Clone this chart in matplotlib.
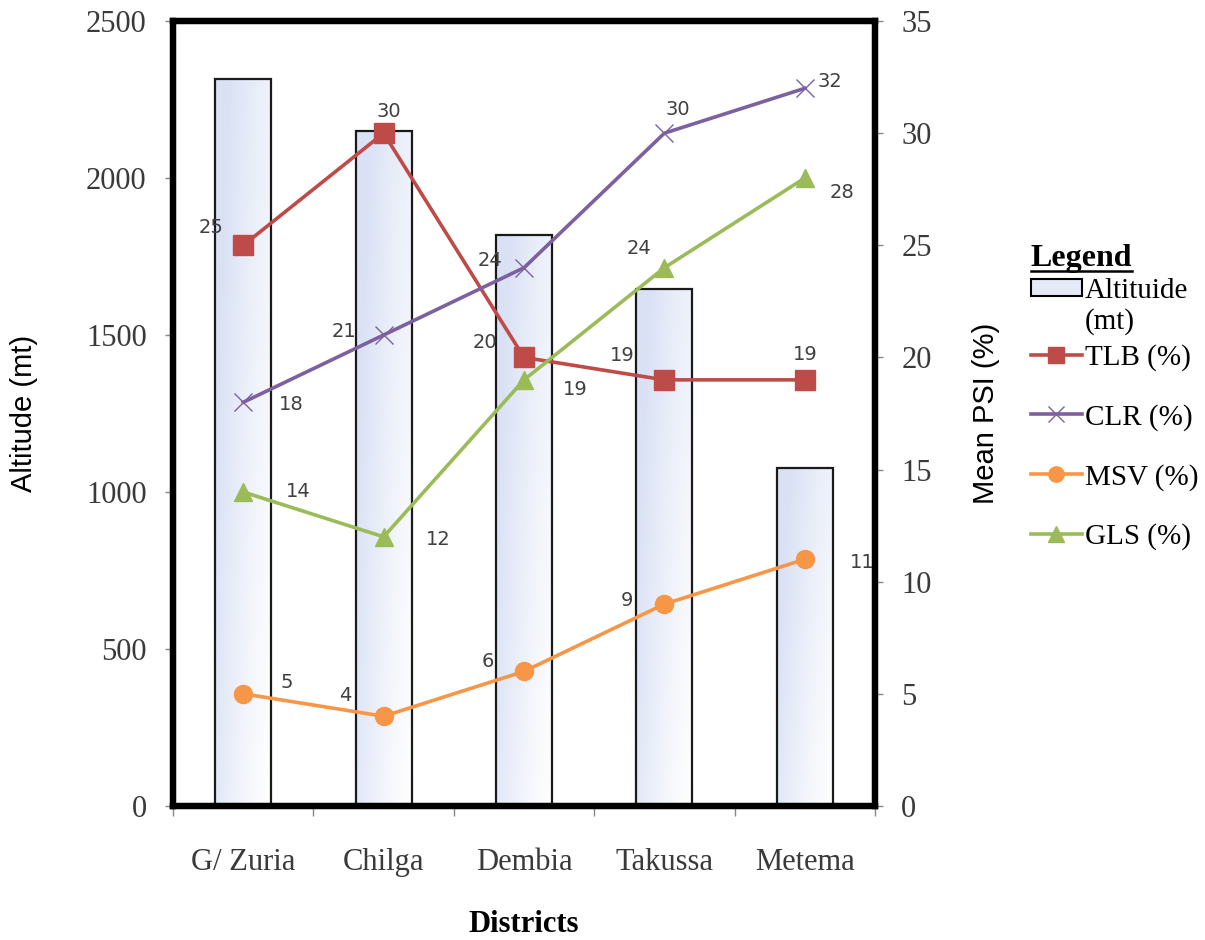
import numpy as np
import matplotlib
matplotlib.use("Agg")
import matplotlib.pyplot as plt
from matplotlib.patches import Patch
from matplotlib.lines import Line2D

# districts and measured values
districts = ["G/ Zuria", "Chilga", "Dembia", "Takussa", "Metema"]
altitude = [2315, 2150, 1820, 1645, 1078]
tlb = [25, 30, 20, 19, 19]
clr = [18, 21, 24, 30, 32]
msv = [5, 4, 6, 9, 11]
gls = [14, 12, 19, 24, 28]

# label offsets in pixels for the value labels (dx, dy)
tlb_off = [(-32, 18), (5, 22), (-39, 15), (-42, 24), (0, 25)]
clr_off = [(48, -2), (-40, 4), (-34, 7), (13, 24), (25, 7)]
msv_off = [(44, 11), (-38, 21), (-36, 10), (-37, 4), (57, -3)]
gls_off = [(55, 0), (55, -3), (51, -10), (-25, 19), (37, -14)]

serif = "Liberation Serif"
sans = "Liberation Sans"
tick_col = "#3a3a3a"

fig = plt.figure(figsize=(12.05, 9.4), dpi=100)
ax = fig.add_axes([0.1436, 0.1426, 0.5825, 0.835])
ax2 = ax.twinx()

x = np.arange(len(districts))
bars = ax.bar(x, altitude, width=0.4, facecolor="none", edgecolor="#1a1a1a",
              linewidth=1.6, zorder=2)

# soft lavender gradient inside each bar
tint = np.array([0.855, 0.885, 0.96])
u = np.linspace(0, 1, 60)
v = np.linspace(1, 0, 100)
U, V = np.meshgrid(u, v)
t = np.clip(0.8 * (1 - U) ** 1.3 + 0.45 * V, 0, 1)[..., None]
grad = (1 - t) * np.ones(3) + t * tint
for b in bars:
    im = ax.imshow(grad, extent=[b.get_x(), b.get_x() + b.get_width(), 0, b.get_height()],
                   aspect="auto", zorder=1.5, interpolation="bilinear")
    im.set_clip_path(b)

ax.set_xlim(-0.5, 4.5)
ax.set_ylim(0, 2500)
ax.set_aspect("auto")
ax.set_yticks(range(0, 2501, 500))
ax.set_xticks(x)
ax.set_xticklabels(districts)
ax.set_xticks(np.arange(-0.5, 5, 1), minor=True)
ax.tick_params(axis="x", which="major", length=0, pad=30)
ax.tick_params(axis="x", which="minor", length=7, width=1, color="#888888", direction="out")
ax.tick_params(axis="y", length=6, width=1, color="#888888", pad=13)
for lab in ax.get_xticklabels() + ax.get_yticklabels():
    lab.set_fontfamily(serif)
    lab.set_fontsize(22)
    lab.set_color(tick_col)

ax2.set_ylim(0, 35)
ax2.set_yticks(range(0, 36, 5))
ax2.tick_params(axis="y", length=6, width=1, color="#888888", pad=13)
for lab in ax2.get_yticklabels():
    lab.set_fontfamily(serif)
    lab.set_fontsize(22)
    lab.set_color(tick_col)

for a in (ax, ax2):
    for s in a.spines.values():
        s.set_linewidth(4.5)
        s.set_color("black")
        s.set_zorder(5)

ax.set_ylabel("Altitude (mt)", fontfamily=sans, fontsize=21)
ax2.set_ylabel("Mean PSI (%)", fontfamily=sans, fontsize=21)
ax.set_xlabel("Districts", fontfamily=serif, fontsize=22, fontweight="bold")
ax.yaxis.set_label_coords(-0.192, 0.5)
ax2.yaxis.set_label_coords(1.138, 0.5)
ax.xaxis.set_label_coords(0.5, -0.133)

series = [
    ("TLB (%)", tlb, tlb_off, "#be4b48", "s", 14),
    ("CLR (%)", clr, clr_off, "#7d60a0", "x", 13),
    ("MSV (%)", msv, msv_off, "#f79646", "o", 13),
    ("GLS (%)", gls, gls_off, "#9bbb59", "^", 13),
]
line_handles = []
for name, vals, offs, col, mk, ms in series:
    ax2.plot(x, vals, color=col, linewidth=2.6, marker=mk, markersize=ms,
             markeredgewidth=1, markeredgecolor=col, zorder=3)
    for xi, val, (dx, dy) in zip(x, vals, offs):
        ax2.annotate(str(val), (xi, val), xytext=(dx, dy), textcoords="offset pixels",
                     ha="center", va="center", fontsize=14, color="#404040",
                     fontfamily="DejaVu Sans", zorder=2)
    line_handles.append(Line2D([], [], color=col, linewidth=2.6, marker=mk,
                               markersize=ms * 0.85, markeredgewidth=1,
                               markeredgecolor=col, label=name))

leg_prop = {"family": serif, "size": 21}

# legend: bar entry with title, then the disease lines below it
bar_handles = [Patch(facecolor="#e6eaf6", edgecolor="black", linewidth=1.5, label="Altituide"),
               Line2D([], [], color="none", label="(mt)")]
leg1 = fig.legend(handles=bar_handles, loc="upper left", bbox_to_anchor=(0.8555, 0.74),
                  frameon=False, title="Legend", alignment="left",
                  title_fontproperties={"family": serif, "size": 23, "weight": "bold"},
                  prop=leg_prop, handlelength=1.75, handleheight=0.5, handletextpad=0.1,
                  labelspacing=0.15, borderaxespad=0, borderpad=0)
leg2 = fig.legend(handles=line_handles, loc="upper left", bbox_to_anchor=(0.8555, 0.6336),
                  frameon=False, prop=leg_prop, handlelength=1.75, handletextpad=0.1,
                  labelspacing=1.12, borderaxespad=0, borderpad=0)

# underline the legend title
fig.canvas.draw()
bb = leg1.get_title().get_window_extent().transformed(fig.transFigure.inverted())
fig.add_artist(Line2D([bb.x0, bb.x1], [bb.y0 + 0.003, bb.y0 + 0.003],
                      transform=fig.transFigure, color="black", linewidth=1.8))

fig.savefig("out.png", dpi=100)
